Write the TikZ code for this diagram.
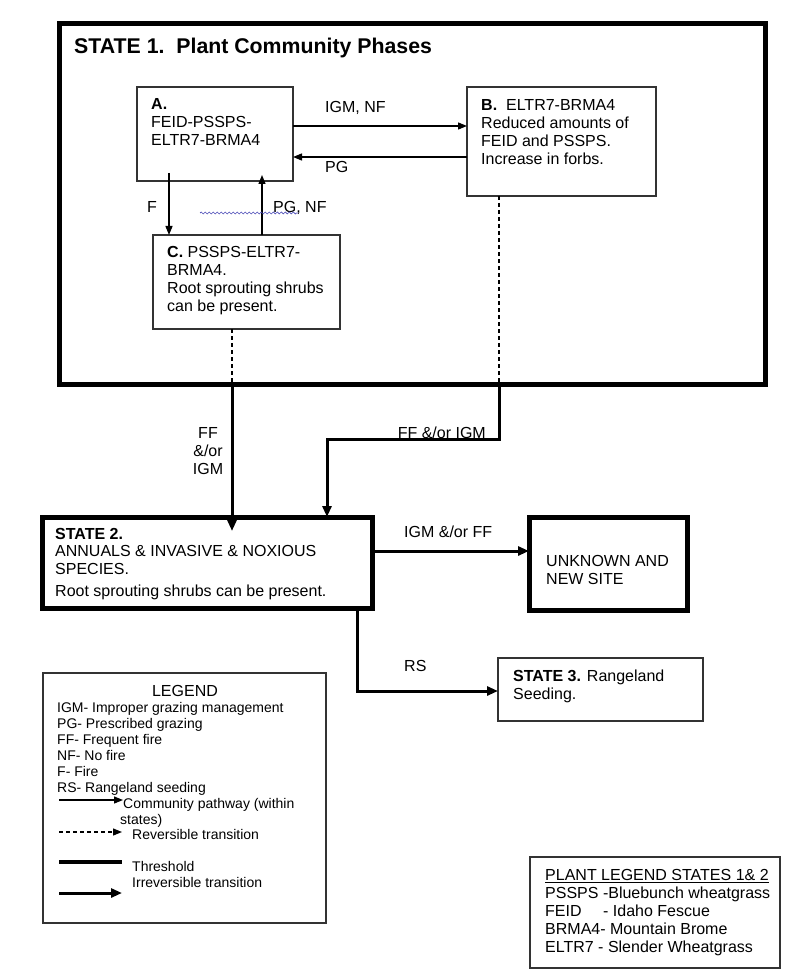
\documentclass[tikz,border=0pt]{standalone}
\usepackage{fontspec}
\setmainfont{Liberation Sans}
\usetikzlibrary{arrows.meta,decorations.pathmorphing,calc}
\begin{document}
\begin{tikzpicture}[x=1pt,y=-1pt,
  box/.style={draw=black!80, line width=1.3pt, anchor=north west, inner sep=0pt, outer sep=0pt},
  statebox/.style={draw=black, line width=5pt, anchor=north west, inner sep=0pt, outer sep=0pt},
  txt/.style={anchor=north west, inner sep=0pt, align=left, font=\fontsize{16}{18}\selectfont},
  lgd/.style={anchor=north west, inner sep=0pt, align=left, font=\fontsize{14}{16}\selectfont},
  thinarrow/.style={line width=1.3pt, -{Triangle[length=9pt,width=7pt]}},
  thickarrow/.style={line width=3pt, -{Triangle[length=11pt,width=9pt]}},
  revline/.style={line width=1.3pt, dash pattern=on 4pt off 3pt},
  revarrow/.style={line width=1.3pt, dash pattern=on 4pt off 3pt, -{Triangle[length=9pt,width=7pt]}},
  thresh/.style={line width=3.5pt},
  spell/.style={decorate, decoration={snake, amplitude=1pt, segment length=4pt}, draw=blue!60!black!70, line width=0.7pt}
]
\fill[white] (0,0) rectangle (800,976);
\useasboundingbox (0,0) rectangle (800,976);

% STATE 1
\node[statebox, minimum width=705.5pt, minimum height=360.5pt] (S1) at (59.5,24) {};
\node[anchor=north west, inner sep=0pt, font=\bfseries\fontsize{21.3}{24}\selectfont] (S1t) at (74,38) {STATE 1.\ \ Plant Community Phases};

\node[box, minimum width=156pt, minimum height=94pt] (A) at (137,87) {};
\node[txt] (At) at (151,98) {\textbf{A.}\\FEID-PSSPS-\\ELTR7-BRMA4};

\node[box, minimum width=189pt, minimum height=109pt] (B) at (467,87) {};
\node[txt] (Bt) at (481,99) {\textbf{B.}\ \ ELTR7-BRMA4\\Reduced amounts of\\FEID and PSSPS.\\Increase in forbs.};

\node[box, minimum width=187pt, minimum height=94pt] (C) at (153,235) {};
\node[txt] (Ct) at (167,246) {\textbf{C.} PSSPS-ELTR7-\\BRMA4.\\Root sprouting shrubs\\can be present.};

% community pathways
\draw[thinarrow] (A.east |- 0,126) -- (B.west |- 0,126);
\node[txt] (l1) at (325,101) {IGM, NF};
\draw[thinarrow] (B.west |- 0,157) -- (A.east |- 0,157);
\node[txt] (l2) at (325,161) {PG};
\draw[thinarrow] ($(A.south -| 169,0)+(0,-8)$) -- (C.north -| 169,0);
\node[txt] (l3) at (147,201) {F};
\draw[thinarrow] (C.north -| 262,0) -- ($(A.south -| 262,0)+(0,-6)$);
\node[txt] (l4) at (273,201) {PG, NF};
\draw[spell] (200,213) -- (298,213);

% STATE 2
\node[statebox, minimum width=330pt, minimum height=91pt] (S2) at (42,517) {};
\node[txt, font=\fontsize{16}{17.6}\selectfont] (S2t) at (55,528) {\textbf{STATE 2.}\\ANNUALS \& INVASIVE \& NOXIOUS\\SPECIES.\\[4pt]Root sprouting shrubs can be present.};

% Unknown
\node[statebox, minimum width=158pt, minimum height=93pt] (U) at (529,517) {};
\node[txt] (Ut) at (546,555) {UNKNOWN AND\\NEW SITE};

% STATE 3
\node[box, minimum width=205pt, minimum height=63pt] (S3) at (498,658) {};
\node[txt] (S3t) at (513,670) {\textbf{STATE 3.} Rangeland\\Seeding.};

% transitions
\draw[revline] (C.south -| 232,0) -- (S1.south -| 232,0);
\draw[thickarrow] (S1.south -| 232,0) -- ($(S2.north -| 232,0)+(0,14)$);
\node[txt, anchor=north, align=center] (l5) at (208,427) {FF\\\&/or\\IGM};

\coordinate (b1) at (499,439);
\coordinate (b2) at (327,439);
\draw[revline] (B.south -| b1) -- (S1.south -| b1);
\draw[thickarrow] (S1.south -| b1) -- (b1) -- (b2) -- (S2.north -| b2);
\node[txt, anchor=north east] (l6) at (486,427) {FF \&/or IGM};

\draw[thickarrow] (S2.east |- 0,551) -- (U.west |- 0,551);
\node[txt] (l7) at (404,526) {IGM \&/or FF};

\coordinate (r1) at (357,691);
\draw[thickarrow] (S2.south -| r1) -- (r1) -- (S3.west |- r1);
\node[txt] (l8) at (404,660) {RS};

% LEGEND
\node[box, minimum width=283pt, minimum height=250pt] (L) at (43,673) {};
\node[anchor=north, inner sep=0pt, font=\fontsize{16}{18}\selectfont] (Lt) at (185,685) {LEGEND};
\node[lgd] (Ll) at (57,702) {IGM- Improper grazing management\\PG- Prescribed grazing\\FF- Frequent fire\\NF- No fire\\F- Fire\\RS- Rangeland seeding};
\coordinate (c1s) at (59,800); \coordinate (c1e) at (123,800);
\draw[thinarrow] (c1s) -- (c1e);
\node[lgd] (Lc) at (123,798) {Community pathway (within\\\hspace*{-3pt}states)};
\coordinate (c2s) at (59,832); \coordinate (c2e) at (122,832);
\draw[revarrow] (c2s) -- (c2e);
\node[lgd] (Lr) at (132,829) {Reversible transition};
\coordinate (c3s) at (59,862); \coordinate (c3e) at (122,862);
\draw[thresh] (c3s) -- (c3e);
\node[lgd] (Lth) at (132,861) {Threshold\\Irreversible transition};
\coordinate (c4s) at (59,893); \coordinate (c4e) at (122,893);
\draw[thickarrow] (c4s) -- (c4e);

% PLANT LEGEND
\node[box, minimum width=250pt, minimum height=111pt] (P) at (530,857) {};
\node[txt] (Pt) at (545,869) {\underline{PLANT LEGEND STATES 1\& 2}\\PSSPS -Bluebunch wheatgrass\\\makebox[58pt][l]{FEID}- Idaho Fescue\\BRMA4- Mountain Brome\\ELTR7 - Slender Wheatgrass};
\end{tikzpicture}
\end{document}
